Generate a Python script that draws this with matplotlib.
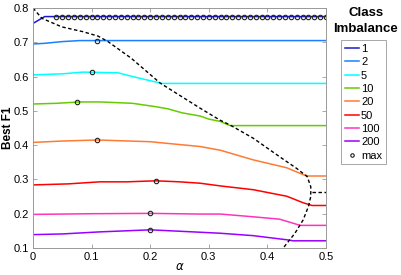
import numpy as np
import matplotlib
matplotlib.use("Agg")
import matplotlib.pyplot as plt
from matplotlib.lines import Line2D

plt.rcParams["font.family"] = ["Liberation Sans", "DejaVu Sans"]

# class imbalance ratios and colours
labels = ["1", "2", "5", "10", "20", "50", "100", "200"]
colors = ["#1a1acc", "#1a80ff", "#00ffff", "#66cc00", "#ff7a33", "#ff0000", "#ff33bb", "#9900ff"]

# best F1 vs alpha (alpha, value)
c1_x = [0.0, 0.02, 0.5]
c1_y = [0.755, 0.775, 0.775]
c2_x = [0.0, 0.02, 0.05, 0.08, 0.12, 0.5]
c2_y = [0.695, 0.697, 0.702, 0.705, 0.705, 0.705]
c5_x = [0.0, 0.05, 0.085, 0.115, 0.145, 0.17, 0.2, 0.22, 0.5]
c5_y = [0.605, 0.608, 0.613, 0.612, 0.611, 0.600, 0.588, 0.580, 0.580]
c10_x = [0.0, 0.04, 0.08, 0.115, 0.17, 0.21, 0.23, 0.255, 0.285, 0.30, 0.32, 0.336, 0.5]
c10_y = [0.520, 0.522, 0.526, 0.526, 0.522, 0.512, 0.506, 0.494, 0.485, 0.476, 0.469, 0.457, 0.457]
c20_x = [0.0, 0.05, 0.11, 0.2, 0.285, 0.32, 0.376, 0.433, 0.461, 0.47, 0.5]
c20_y = [0.408, 0.412, 0.415, 0.410, 0.396, 0.385, 0.357, 0.334, 0.314, 0.310, 0.310]
c50_x = [0.0, 0.06, 0.114, 0.16, 0.21, 0.25, 0.285, 0.32, 0.376, 0.433, 0.461, 0.476, 0.5]
c50_y = [0.284, 0.287, 0.293, 0.293, 0.296, 0.293, 0.289, 0.281, 0.270, 0.251, 0.232, 0.224, 0.224]
c100_x = [0.0, 0.1, 0.2, 0.285, 0.32, 0.376, 0.421, 0.456, 0.5]
c100_y = [0.198, 0.200, 0.201, 0.199, 0.199, 0.191, 0.184, 0.166, 0.166]
c200_x = [0.0, 0.05, 0.114, 0.2, 0.285, 0.32, 0.376, 0.433, 0.444, 0.5]
c200_y = [0.139, 0.141, 0.147, 0.153, 0.146, 0.143, 0.136, 0.124, 0.121, 0.121]
curves_x = [c1_x, c2_x, c5_x, c10_x, c20_x, c50_x, c100_x, c200_x]
curves_y = [c1_y, c2_y, c5_y, c10_y, c20_y, c50_y, c100_y, c200_y]

# location of the max for each curve (ratio 1 is tied from 0.04 on)
max1_x = [0.04, 0.05, 0.06, 0.07, 0.08, 0.09, 0.10, 0.11, 0.12, 0.13, 0.14, 0.15,
          0.16, 0.17, 0.18, 0.19, 0.20, 0.21, 0.22, 0.23, 0.24, 0.25, 0.26, 0.27,
          0.28, 0.29, 0.30, 0.31, 0.32, 0.33, 0.34, 0.35, 0.36, 0.37, 0.38, 0.39,
          0.40, 0.41, 0.42, 0.43, 0.44, 0.45, 0.46, 0.47, 0.48, 0.49, 0.50]
max1_y = [0.775] * len(max1_x)
max_x = [0.11, 0.10, 0.075, 0.11, 0.21, 0.20, 0.20]
max_y = [0.705, 0.613, 0.526, 0.415, 0.296, 0.202, 0.153]

# dashed boundary curve
bound_x = [0.0, 0.015, 0.049, 0.085, 0.111, 0.128, 0.168, 0.217, 0.285, 0.319, 0.336,
           0.376, 0.421, 0.45, 0.468, 0.474, 0.474, 0.47, 0.461, 0.447, 0.427]
bound_y = [0.80, 0.770, 0.745, 0.731, 0.718, 0.702, 0.653, 0.581, 0.508, 0.473, 0.459,
           0.420, 0.366, 0.332, 0.308, 0.279, 0.250, 0.221, 0.182, 0.143, 0.10]
step_x = [0.476, 0.5]
step_y = [0.264, 0.264]

fig = plt.figure(figsize=(4.01, 2.75), dpi=100)
ax = fig.add_axes([33 / 401, 27 / 275, 293 / 401, 240 / 275])

for xs, ys, col in zip(curves_x, curves_y, colors):
    ax.plot(xs, ys, color=col, lw=1.1)
ax.plot(bound_x, bound_y, "k--", lw=1.0, dashes=(2.5, 1.8))
ax.plot(step_x, step_y, "k--", lw=1.0, dashes=(2.5, 1.8))
ax.plot(max1_x, max1_y, "o", ms=3.2, mfc="none", mec="#222222", mew=0.8)
ax.plot(max_x, max_y, "o", ms=3.2, mfc="none", mec="#222222", mew=0.8)

ax.set_xlim(0, 0.5)
ax.set_ylim(0.1, 0.8)
ax.set_xticks([0, 0.1, 0.2, 0.3, 0.4, 0.5])
ax.set_xticklabels(["0", "0.1", "0.2", "0.3", "0.4", "0.5"])
ax.set_yticks([0.1, 0.2, 0.3, 0.4, 0.5, 0.6, 0.7, 0.8])
ax.tick_params(direction="in", length=3, width=0.6, color="#999999",
               labelsize=8, top=True, right=True, pad=3)
for sp in ax.spines.values():
    sp.set_color("#999999")
    sp.set_linewidth(0.7)
ax.set_xlabel(r"$\alpha$", fontsize=8.5, labelpad=-1)
ax.set_ylabel("Best F1", fontsize=8.5, fontweight="bold")
ax.yaxis.set_label_coords(-19 / 293, 0.5)

handles = [Line2D([], [], color=c, lw=1.1) for c in colors]
handles.append(Line2D([], [], ls="none", marker="o", ms=2.5, mfc="none", mec="k", mew=0.7))
leg = fig.legend(handles, labels + ["max"], loc="upper left",
                 bbox_to_anchor=(341 / 401, 1 - 40 / 275), fontsize=8,
                 handlelength=1.3, handletextpad=0.15, labelspacing=0.3,
                 borderpad=0.35, borderaxespad=0, fancybox=False, framealpha=1)
leg.get_frame().set_edgecolor("#999999")
leg.get_frame().set_linewidth(0.6)

fig.text(366 / 401, 1 - 13 / 275, "Class", ha="center", va="center",
         fontsize=9.5, fontweight="bold")
fig.text(366 / 401, 1 - 29 / 275, "Imbalance", ha="center", va="center",
         fontsize=9.5, fontweight="bold")

fig.savefig("out.png", dpi=100)
